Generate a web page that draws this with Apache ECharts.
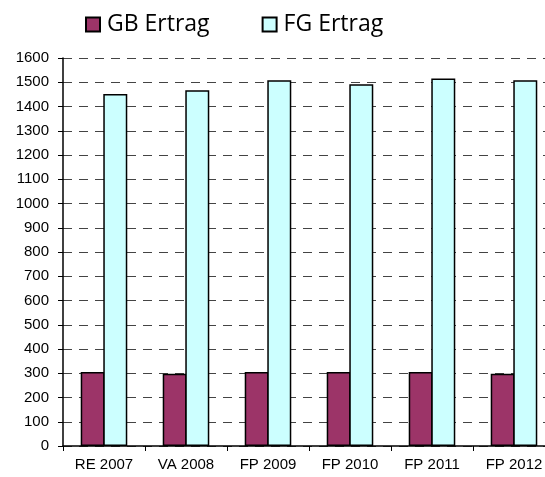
<!DOCTYPE html>
<html>
<head>
<meta charset="utf-8">
<script src="https://cdn.jsdelivr.net/npm/echarts@6/dist/echarts.min.js"></script>
<style>
  html, body { margin: 0; padding: 0; background: #fff; }
  #chart { width: 545px; height: 477px; }
</style>
</head>
<body>
<div id="chart"></div>
<script>
const categories = ['RE 2007', 'VA 2008', 'FP 2009', 'FP 2010', 'FP 2011', 'FP 2012'];
const gbErtrag = [305, 298, 305, 305, 305, 298];
const fgErtrag = [1452, 1467, 1508, 1492, 1515, 1508];

const myChart = echarts.init(document.getElementById('chart'));
myChart.setOption({
  animation: false,
  legend: {
    top: 8,
    left: 80,
    itemGap: 52,
    itemWidth: 14,
    itemHeight: 14,
    icon: 'rect',
    textStyle: {fontFamily: 'Open Sans', fontSize: 23, color: '#000', padding: [0, 0, 0, 2]},
    data: ['GB Ertrag', 'FG Ertrag']
  },
  grid: {left: 63, width: 492, top: 58, bottom: 31, outerBoundsMode: 'none', containLabel: false},
  xAxis: {
    type: 'category',
    data: categories,
    axisLine: {lineStyle: {color: '#000', width: 1.5}},
    axisTick: {show: true, length: 5, lineStyle: {color: '#000'}},
    axisLabel: {fontFamily: 'Liberation Sans', fontSize: 15, color: '#000', margin: 11}
  },
  yAxis: {
    type: 'value',
    min: 0,
    max: 1600,
    interval: 100,
    axisLine: {show: true, lineStyle: {color: '#000', width: 1.5}},
    axisTick: {show: true, length: 5, lineStyle: {color: '#000'}},
    axisLabel: {fontFamily: 'Liberation Sans', fontSize: 15, color: '#000', margin: 14,
      formatter(v) { return String(v); }},
    splitLine: {lineStyle: {color: '#444', type: [9, 7], width: 1}}
  },
  series: [
    {
      name: 'GB Ertrag',
      type: 'bar',
      data: gbErtrag,
      barWidth: 24,
      barGap: '-6%',
      itemStyle: {color: '#9c3468', borderColor: '#000', borderWidth: 1.5}
    },
    {
      name: 'FG Ertrag',
      type: 'bar',
      data: fgErtrag,
      barWidth: 24,
      barGap: '-6%',
      itemStyle: {color: '#ccffff', borderColor: '#000', borderWidth: 1.5}
    }
  ]
});
</script>
</body>
</html>
